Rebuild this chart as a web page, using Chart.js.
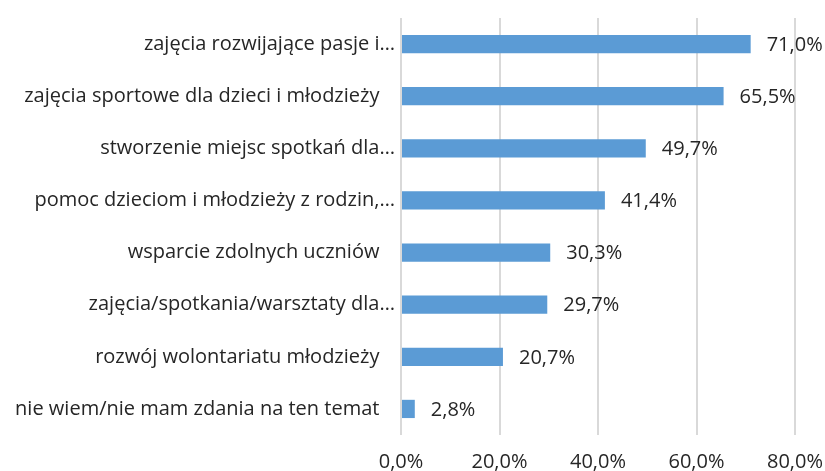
<!DOCTYPE html>
<html>
<head>
<meta charset="utf-8">
<script src="https://cdn.jsdelivr.net/npm/chart.js@4/dist/chart.umd.min.js"></script>
<style>
  html, body { margin: 0; padding: 0; background: #fff; }
  #wrap { width: 825px; height: 471px; }
</style>
</head>
<body>
<div id="wrap"><canvas id="chart"></canvas></div>
<script>
// ----------------------
// Data
// ----------------------
const categories = [
  'zajęcia rozwijające pasje i…',
  'zajęcia sportowe dla dzieci i młodzieży   ',
  'stworzenie miejsc spotkań dla…',
  'pomoc dzieciom i młodzieży z rodzin,…',
  'wsparcie zdolnych uczniów   ',
  'zajęcia/spotkania/warsztaty dla…',
  'rozwój wolontariatu młodzieży   ',
  'nie wiem/nie mam zdania na ten temat   ',
];
const values = [71.0, 65.5, 49.7, 41.4, 30.3, 29.7, 20.7, 2.8];
const xTicks = [0, 20, 40, 60, 80];

const colors = {
  bar: '#5b9bd5',
  grid: '#d9d9d9',
  text: '#262626',
};
const fontFamily = "'Open Sans', 'Liberation Sans', sans-serif";
const fontSize = 20;

const fmt = (v) => v.toFixed(1).replace('.', ',') + '%';

// value labels at bar ends
const valueLabels = {
  id: 'valueLabels',
  afterDatasetsDraw(chart) {
    const { ctx } = chart;
    const meta = chart.getDatasetMeta(0);
    ctx.save();
    ctx.font = `${fontSize}px ${fontFamily}`;
    ctx.fillStyle = colors.text;
    ctx.textAlign = 'left';
    ctx.textBaseline = 'middle';
    meta.data.forEach((bar, i) => {
      ctx.fillText(fmt(values[i]), bar.x + 16, bar.y + 1);
    });
    ctx.restore();
  },
};

new Chart(document.getElementById('chart'), {
  type: 'bar',
  data: {
    labels: categories,
    datasets: [{
      data: values,
      backgroundColor: colors.bar,
      borderWidth: 0,
      categoryPercentage: 1,
      barPercentage: 0.35,
    }],
  },
  options: {
    indexAxis: 'y',
    responsive: true,
    maintainAspectRatio: false,
    animation: false,
    layout: { padding: { top: 16, right: 0, bottom: 0, left: 0 } },
    plugins: {
      legend: { display: false },
      tooltip: { enabled: false },
    },
    scales: {
      x: {
        min: 0,
        max: 80,
        afterBuildTicks: (axis) => { axis.ticks = xTicks.map((v) => ({ value: v })); },
        afterFit: (axis) => {
          axis.height = 36;
          axis.paddingLeft = 0;
          axis.paddingRight = 30;
        },
        grid: { color: colors.grid, lineWidth: 2, drawTicks: false },
        border: { display: false },
        ticks: {
          padding: 15,
          color: colors.text,
          font: { size: fontSize, family: fontFamily },
          callback: (v) => fmt(v),
        },
      },
      y: {
        afterFit: (axis) => { axis.width = 401; },
        grid: { display: false, drawTicks: false },
        border: { display: false },
        ticks: {
          padding: 6,
          color: colors.text,
          font: { size: fontSize, family: fontFamily },
          autoSkip: false,
        },
      },
    },
  },
  plugins: [valueLabels],
});
</script>
</body>
</html>
